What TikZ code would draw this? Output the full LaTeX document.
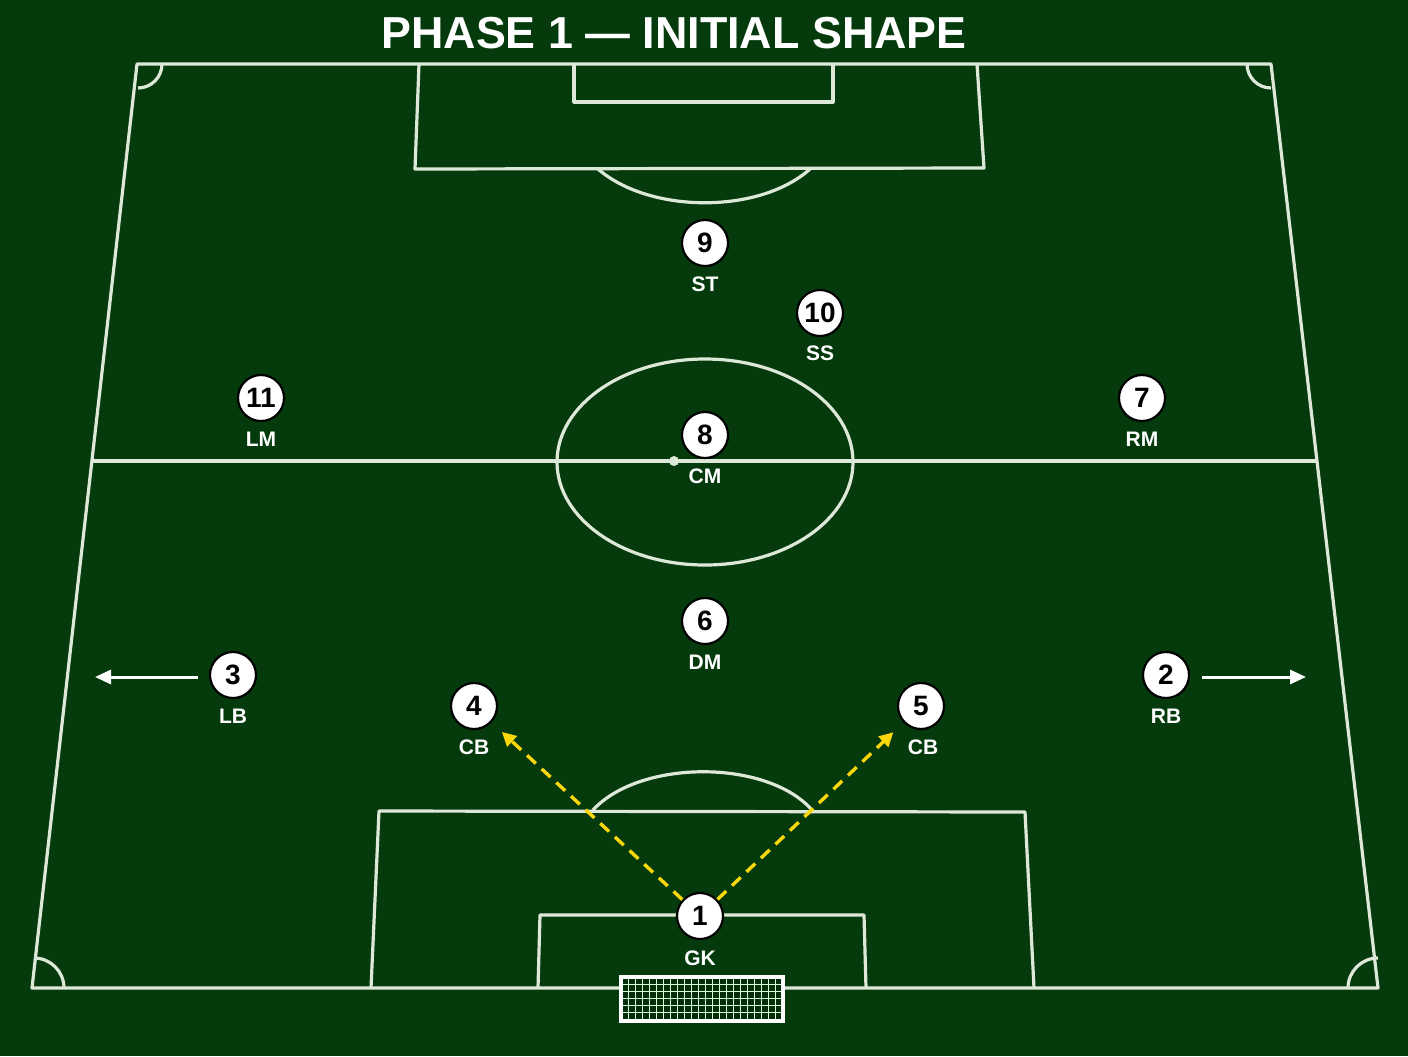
\documentclass[tikz,border=0pt]{standalone}
\usepackage{fontspec}
\setmainfont{Liberation Sans}
\usetikzlibrary{arrows.meta}
\definecolor{pitchbg}{RGB}{5,58,13}
\definecolor{chalk}{RGB}{222,232,216}
\definecolor{runyellow}{RGB}{250,215,10}
\tikzset{
  pline/.style={draw=chalk, line width=1.6pt, line join=round},
  player/.style={circle, fill=white, draw=black, line width=1.1pt, minimum size=23pt, inner sep=0pt,
     font=\fontsize{14}{14}\selectfont\bfseries, text=black},
  role/.style={font=\fontsize{10.5}{11}\selectfont\bfseries, text=white},
  runarrow/.style={draw=runyellow, line width=1.7pt, dash pattern=on 6pt off 4pt,
     -{Triangle[length=7pt,width=7pt]}, shorten >=7pt},
  widearrow/.style={draw=white, line width=1.5pt, -{Triangle[length=8pt,width=7pt]}},
}
\begin{document}
\begin{tikzpicture}[x=0.5pt,y=-0.5pt]
\useasboundingbox (0,0) rectangle (1408,1056);
\fill[pitchbg] (0,0) rectangle (1408,1056);
% title
\node[font=\fontsize{22.4}{23}\selectfont\bfseries, text=white] (title) at (674,33) {PHASE 1 — INITIAL SHAPE};
% pitch outline
\draw[pline] (137,64) -- (1271,64) -- (1378,988) -- (32,988) -- cycle;
\draw[pline] (92,461) -- (1317,461);
% centre circle and spot
\draw[pline] (705,462) ellipse [x radius=148, y radius=103];
\fill[chalk] (674,461) circle (5);
% top boxes
\draw[pline] (419,64) -- (415,169) -- (984,168) -- (977,64);
\draw[pline] (574,64) -- (574,102) -- (833,102) -- (833,64);
\draw[pline] (598,169) .. controls (650,214) and (760,214) .. (810,169);
% bottom boxes
\draw[pline] (371,988) -- (379,811) -- (1025,812) -- (1034,988);
\draw[pline] (538,988) -- (540,915) -- (864,915) -- (866,988);
\draw[pline] (593,810) .. controls (640,759) and (767,759) .. (812,810);
% corner arcs
\draw[pline] (34,958) arc[start angle=-90, end angle=0, radius=30];
\draw[pline] (1348,988) arc[start angle=180, end angle=270, radius=30];
\draw[pline] (162,64) arc[start angle=0, end angle=90, radius=24];
\draw[pline] (1247,64) arc[start angle=180, end angle=90, radius=24];
% goal
\fill[pitchbg!80!black] (621,977) rectangle (783,1021);
\foreach \gx in {628,635,...,777} \draw[white!85!green, line width=0.5pt] (\gx,979) -- (\gx,1019);
\foreach \gy in {984,991,...,1016} \draw[white!85!green, line width=0.5pt] (623,\gy) -- (781,\gy);
\draw[white, line width=1.6pt] (621,977) rectangle (783,1021);
% players
\node[player] (p9) at (705,243) {9};
\node[role] (l9) at (705,284) {ST};
\node[player] (p10) at (820,313) {10};
\node[role] (l10) at (820,353) {SS};
\node[player] (p11) at (261,398) {11};
\node[role] (l11) at (261,439) {LM};
\node[player] (p7) at (1142,398) {7};
\node[role] (l7) at (1142,439) {RM};
\node[player] (p8) at (705,435) {8};
\node[role] (l8) at (705,476) {CM};
\node[player] (p6) at (705,621) {6};
\node[role] (l6) at (705,662) {DM};
\node[player] (p3) at (233,675) {3};
\node[role] (l3) at (233,716) {LB};
\node[player] (p2) at (1166,675) {2};
\node[role] (l2) at (1166,716) {RB};
\node[player] (p4) at (474,706) {4};
\node[role] (l4) at (474,747) {CB};
\node[player] (p5) at (921,706) {5};
\node[role] (l5) at (923,747) {CB};
\node[player] (p1) at (700,916) {1};
\node[role] (l1) at (700,958) {GK};
% width arrows
\coordinate (lbend) at (95,677);
\coordinate (rbend) at (1306,677);
\draw[widearrow, shorten <=5.5pt] (p3.west |- lbend) -- (lbend);
\draw[widearrow, shorten <=6pt] (p2.east |- rbend) -- (rbend);
% goalkeeper distribution runs
\draw[runarrow] (p1) -- (p4);
\draw[runarrow] (p1) -- (p5);
\end{tikzpicture}
\end{document}
